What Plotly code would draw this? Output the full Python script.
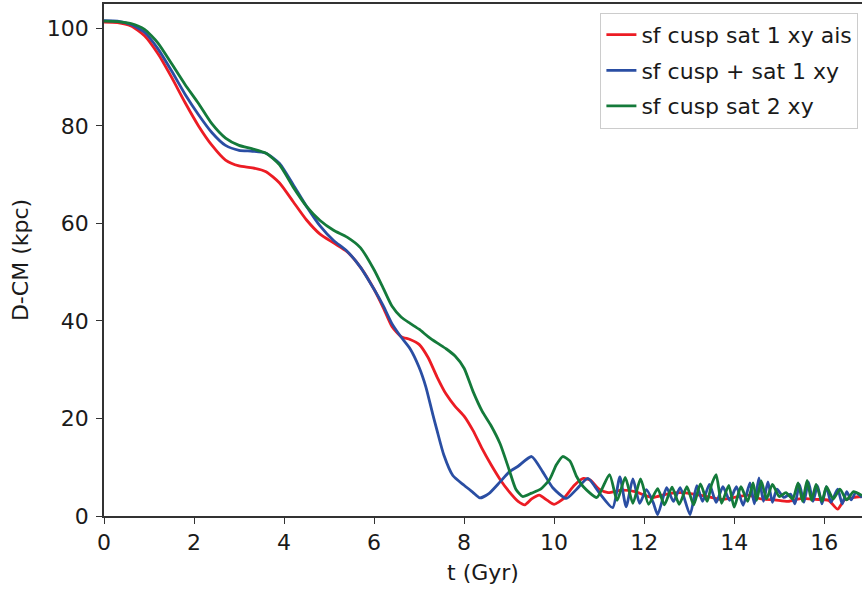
import plotly.graph_objects as go

names = ["sf cusp sat 1 xy ais", "sf cusp + sat 1 xy", "sf cusp sat 2 xy"]
colors = ["#ec1c24", "#2a4ea3", "#147a3a"]

t_red = [0, 0.3, 0.6, 0.9, 1.2, 1.5, 1.8, 2.1, 2.4, 2.7, 3.0, 3.3, 3.6, 3.9, 4.2, 4.5, 4.8, 5.1, 5.4, 5.7,
         6.0, 6.2, 6.4, 6.6, 6.8, 7.0, 7.2, 7.4, 7.6, 7.8, 8.0, 8.2, 8.4, 8.6, 8.8, 9.0, 9.2, 9.35, 9.5, 9.67,
         9.85, 10.0, 10.2, 10.45, 10.65, 10.8, 11.0, 11.2, 11.5, 11.8, 12.0, 12.2, 12.5, 12.8, 13.1, 13.4, 13.7,
         14.0, 14.3, 14.6, 14.9, 15.2, 15.5, 15.8, 16.1, 16.3, 16.45, 16.65, 16.84]
d_red = [101.3, 101.2, 100.5, 98.5, 94.8, 90.0, 84.8, 80.0, 76.0, 73.0, 71.8, 71.4, 70.6, 68.3, 64.5, 60.7,
         57.8, 56.0, 54.2, 51.0, 46.5, 42.8, 38.8, 36.8, 36.2, 35.2, 32.5, 28.5, 25.0, 22.5, 20.5, 17.5, 13.8,
         10.5, 7.5, 5.0, 3.0, 2.3, 3.5, 4.3, 3.2, 2.4, 3.5, 6.3, 7.7, 7.4, 5.5, 4.8, 5.3, 5.0, 4.3, 3.8, 4.5,
         4.8, 4.5, 4.0, 3.4, 3.8, 4.3, 3.5, 3.3, 3.0, 3.6, 3.4, 3.2, 1.4, 3.3, 3.8, 4.0]

t_blue = [0, 0.3, 0.6, 0.9, 1.2, 1.5, 1.8, 2.1, 2.4, 2.7, 3.0, 3.3, 3.6, 3.9, 4.2, 4.5, 4.8, 5.1, 5.4, 5.7,
          6.0, 6.2, 6.4, 6.6, 6.8, 7.0, 7.15, 7.3, 7.4, 7.55, 7.75, 8.0, 8.2, 8.35, 8.55, 8.8, 9.0, 9.2, 9.5,
          9.75, 9.97, 10.27, 10.5, 10.75, 11.0, 11.3, 11.46, 11.6, 11.75, 11.9, 12.05, 12.2, 12.3, 12.5, 12.65,
          12.8, 13.02, 13.17, 13.3, 13.45, 13.6, 13.75, 13.9, 14.05, 14.2, 14.35, 14.45, 14.55, 14.65, 14.75,
          14.85, 14.95, 15.1, 15.25, 15.35, 15.45, 15.55, 15.65, 15.75, 15.85, 15.95, 16.05, 16.15, 16.3, 16.4,
          16.5, 16.6, 16.7, 16.84]
d_blue = [101.6, 101.5, 100.8, 99.2, 95.8, 91.3, 86.5, 82.3, 78.6, 76.0, 75.0, 74.8, 74.4, 72.3, 68.0, 63.5,
          59.5, 56.5, 54.3, 51.0, 46.5, 43.2, 39.4, 36.7, 34.3, 30.5, 26.5, 21.0, 17.5, 12.5, 8.3, 6.3, 4.8,
          3.7, 4.6, 7.0, 9.0, 10.2, 12.2, 9.0, 5.8, 3.6, 5.5, 7.7, 4.8, 1.7, 8.0, 1.9, 7.6, 2.6, 5.4, 2.8, 0.3,
          5.8, 3.0, 5.8, 0.3, 6.2, 3.0, 6.5, 2.8, 6.0, 3.2, 6.0, 2.2, 6.8, 2.5, 7.8, 3.0, 7.0, 2.8, 5.5, 3.8,
          4.5, 2.5, 6.5, 2.8, 7.0, 3.0, 6.2, 2.5, 6.0, 2.8, 5.5, 2.5, 5.0, 3.3, 4.8, 3.8]

t_green = [0, 0.3, 0.6, 0.9, 1.2, 1.5, 1.8, 2.1, 2.4, 2.7, 3.0, 3.3, 3.6, 3.9, 4.2, 4.5, 4.8, 5.1, 5.4, 5.7,
           6.0, 6.2, 6.4, 6.6, 6.8, 7.0, 7.2, 7.4, 7.6, 7.8, 8.0, 8.2, 8.4, 8.6, 8.8, 9.0, 9.15, 9.3, 9.5, 9.7,
           9.9, 10.05, 10.19, 10.35, 10.5, 10.65, 10.95, 11.23, 11.4, 11.58, 11.75, 11.92, 12.1, 12.3, 12.45,
           12.62, 12.78, 12.95, 13.1, 13.25, 13.4, 13.5, 13.6, 13.72, 13.88, 14.0, 14.15, 14.3, 14.42, 14.5,
           14.6, 14.72, 14.85, 15.0, 15.15, 15.3, 15.42, 15.52, 15.62, 15.72, 15.82, 15.95, 16.05, 16.2, 16.35,
           16.5, 16.65, 16.84]
d_green = [101.5, 101.4, 101.0, 99.8, 97.0, 92.8, 88.5, 84.6, 80.4, 77.5, 76.0, 75.3, 74.4, 72.0, 67.5, 63.5,
           60.6, 58.6, 57.2, 55.0, 50.5, 46.8, 43.0, 40.8, 39.5, 38.3, 36.8, 35.5, 34.3, 32.8, 30.3, 25.5, 21.5,
           18.5, 14.8, 9.5, 5.5, 4.0, 4.7, 5.5, 7.5, 10.5, 12.2, 11.3, 8.1, 6.0, 3.8, 8.5, 3.2, 7.9, 2.6, 7.6,
           2.4, 5.6, 2.3, 5.9, 2.4, 6.0, 2.3, 6.6, 3.0, 6.5, 8.5, 2.6, 6.3, 1.8, 6.0, 3.0, 6.8, 3.2, 7.2, 3.5,
           6.5, 4.0, 4.8, 3.5, 6.8, 3.0, 7.3, 3.2, 6.5, 3.0, 6.0, 3.5, 5.5, 3.3, 5.0, 4.2]

x_ticks = [0, 2, 4, 6, 8, 10, 12, 14, 16]
y_ticks = [0, 20, 40, 60, 80, 100]

series = [(t_red, d_red), (t_blue, d_blue), (t_green, d_green)]

fig = go.Figure()
for i, ((tx, dy), name, col) in enumerate(zip(series, names, colors)):
    fig.add_trace(go.Scatter(
        x=tx, y=dy, mode="lines", name=name, legendgroup=f"g{i}",
        line=dict(color=col, width=2.8, shape="spline", smoothing=0.6),
    ))

FS = 22
axis_common = dict(
    showgrid=False, zeroline=False, showline=True, linecolor="#333333", linewidth=1.6,
    ticks="outside", ticklen=6, tickwidth=1.4, tickcolor="#333333",
    tickfont=dict(family="DejaVu Sans", size=FS, color="#1a1a1a"),
)

fig.update_layout(
    width=862, height=591,
    margin=dict(l=104, r=0, t=4, b=75),
    paper_bgcolor="white", plot_bgcolor="white",
    font=dict(family="DejaVu Sans", size=FS, color="#1a1a1a"),
    showlegend=True,
    legend=dict(
        x=0.995, y=0.983, xanchor="right", yanchor="top",
        bgcolor="white", bordercolor="#cccccc", borderwidth=1.2,
        font=dict(family="DejaVu Sans", size=FS, color="#1a1a1a"),
        tracegroupgap=4,
    ),
    xaxis=dict(range=[0, 16.84], tickvals=x_ticks, mirror=True,
               title=dict(text="t (Gyr)", font=dict(size=FS), standoff=10), **axis_common),
    yaxis=dict(range=[0, 105], tickvals=y_ticks, ticklabelstandoff=3,
               title=dict(text="D-CM (kpc)", font=dict(size=FS), standoff=12), **axis_common),
)

fig.write_html("out.html")
